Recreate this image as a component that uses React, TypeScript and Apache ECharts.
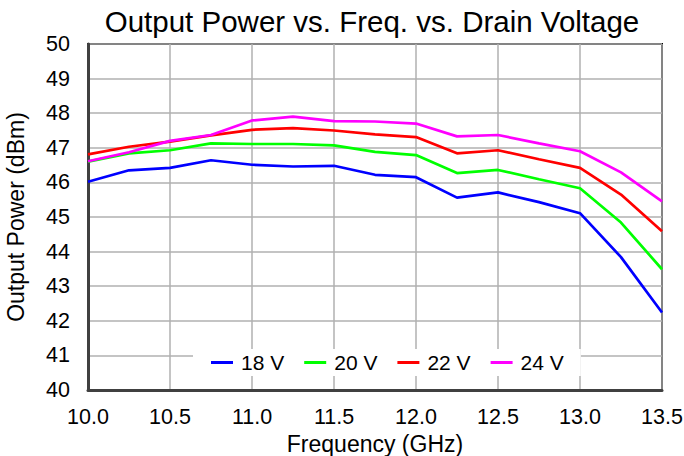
import React, { useEffect, useRef } from "react";
import * as echarts from "echarts";

const freqs = [10.0, 10.25, 10.5, 10.75, 11.0, 11.25, 11.5, 11.75, 12.0, 12.25, 12.5, 12.75, 13.0, 13.25, 13.5];
const v18 = [46.02, 46.35, 46.42, 46.64, 46.51, 46.46, 46.48, 46.22, 46.15, 45.56, 45.71, 45.43, 45.11, 43.84, 42.24];
const v20 = [46.6, 46.84, 46.93, 47.13, 47.11, 47.11, 47.07, 46.88, 46.79, 46.27, 46.36, 46.09, 45.83, 44.84, 43.49];
const v22 = [46.81, 47.03, 47.18, 47.36, 47.52, 47.57, 47.5, 47.39, 47.31, 46.84, 46.93, 46.67, 46.42, 45.65, 44.59];
const v24 = [46.61, 46.87, 47.2, 47.37, 47.79, 47.9, 47.77, 47.76, 47.7, 47.33, 47.37, 47.13, 46.9, 46.29, 45.45];
const seriesNames = ["18 V", "20 V", "22 V", "24 V"];
const seriesColors = ["#0000ff", "#00ff00", "#ff0000", "#ff00ff"];
const seriesValues = [v18, v20, v22, v24];

const FONT = "'Liberation Sans', Arial, sans-serif";

export default function App() {
  const ref = useRef<HTMLDivElement>(null);
  useEffect(() => {
    if (!ref.current) return;
    const chart = echarts.init(ref.current, undefined, { renderer: "svg" });
    chart.setOption({
      animation: false,
      backgroundColor: "#ffffff",
      title: {
        text: "Output Power vs. Freq. vs. Drain Voltage",
        left: 372,
        textAlign: "center",
        top: 6,
        padding: 0,
        textStyle: { fontFamily: FONT, fontSize: 29.5, fontWeight: "normal", color: "#000" },
      },
      grid: {
        left: 88,
        right: 22,
        top: 44,
        bottom: 66,
        containLabel: false,
        outerBoundsMode: "none",
        show: true,
        borderColor: "#000",
        borderWidth: 2,
        backgroundColor: "transparent",
      },
      legend: {
        data: seriesNames,
        left: 193,
        top: 349,
        padding: [3, 17, 3, 18],
        itemGap: 20,
        itemWidth: 22,
        itemHeight: 3,
        icon: "rect",
        backgroundColor: "#ffffff",
        textStyle: { fontFamily: FONT, fontSize: 21, color: "#000", padding: [0, 0, 0, 3] },
      },
      xAxis: {
        type: "value",
        min: 10,
        max: 13.5,
        interval: 0.5,
        name: "Frequency (GHz)",
        nameLocation: "middle",
        nameGap: 37,
        nameTextStyle: { fontFamily: FONT, fontSize: 23, color: "#000" },
        axisLine: { show: true, lineStyle: { color: "#404040", width: 3 } },
        axisTick: { show: false },
        axisLabel: {
          fontFamily: FONT,
          fontSize: 21.5,
          color: "#000",
          margin: 16,
          formatter: (v: number) => v.toFixed(1),
        },
        splitLine: { show: true, lineStyle: { color: "#b0b0b0", width: 1.5 } },
      },
      yAxis: {
        type: "value",
        min: 40,
        max: 50,
        interval: 1,
        name: "Output Power (dBm)",
        nameLocation: "middle",
        nameGap: 55,
        nameTextStyle: { fontFamily: FONT, fontSize: 23, color: "#000", padding: [0, 0, 6, 0] },
        axisLine: { show: true, lineStyle: { color: "#404040", width: 3 } },
        axisTick: { show: false },
        axisLabel: { fontFamily: FONT, fontSize: 21.5, color: "#000", margin: 18 },
        splitLine: { show: true, lineStyle: { color: "#b0b0b0", width: 1.5 } },
      },
      series: seriesNames.map((name, i) => ({
        name,
        type: "line",
        data: freqs.map((f, j) => [f, seriesValues[i][j]]),
        symbol: "none",
        color: seriesColors[i],
        lineStyle: { color: seriesColors[i], width: 2.7 },
        z: 3,
      })),
    });
    return () => chart.dispose();
  }, []);
  return <div ref={ref} style={{ width: 684, height: 456, position: "absolute", left: 0, top: 0 }} />;
}
